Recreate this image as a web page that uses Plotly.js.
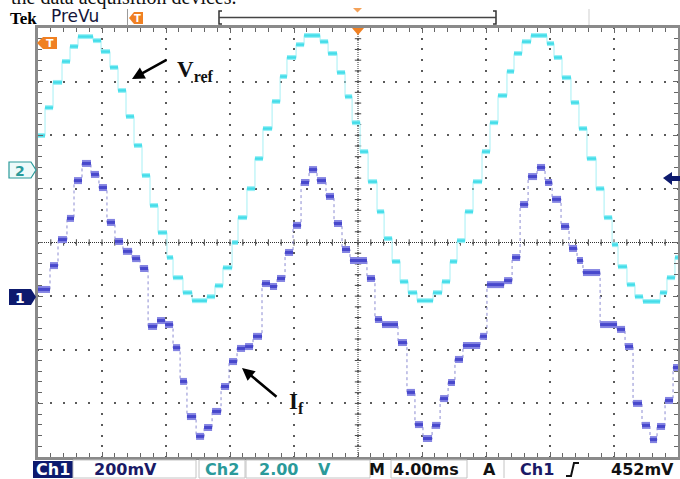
<!DOCTYPE html>
<html><head><meta charset="utf-8">
<script src="https://cdn.plot.ly/plotly-3.0.1.min.js"></script>
<style>html,body{margin:0;padding:0;background:#fff;overflow:hidden}#chart{width:680px;height:479px}</style>
</head><body><div id="chart"></div>
<script>
// ---- Data (time in ms, Ch1 in mV, Ch2 in V) ----
const tCh2 = [0.00,0.44,0.94,1.50,2.00,2.50,3.44,3.94,4.50,5.00,5.50,6.00,6.50,7.00,7.50,8.06,8.44,9.06,9.63,10.56,11.06,11.56,12.13,12.50,13.06,13.56,14.06,14.63,15.13,15.56,16.13,16.63,17.63,18.13,18.69,19.19,19.63,20.13,20.63,21.19,21.63,22.13,22.63,23.13,23.69,24.69,25.25,25.75,26.19,26.69,27.19,27.75,28.25,28.75,29.31,29.75,30.25,30.81,31.81,32.25,32.75,33.31,33.81,34.31,34.88,35.38,35.88,36.25,36.81,37.31,37.81,38.88,39.31,39.81];
const vCh2 = [1.27,2.31,3.25,4.03,4.59,4.96,4.81,4.40,3.81,2.95,1.98,0.90,-0.22,-1.34,-2.35,-3.28,-4.03,-4.59,-4.89,-4.74,-4.33,-3.66,-2.72,-1.79,-0.71,0.41,1.53,2.54,3.47,4.18,4.66,5.00,4.77,4.33,3.62,2.72,1.75,0.67,-0.45,-1.57,-2.57,-3.43,-4.18,-4.59,-4.89,-4.59,-4.18,-3.43,-2.65,-1.57,-0.45,0.67,1.75,2.76,3.66,4.33,4.77,5.00,4.70,4.18,3.43,2.50,1.53,0.41,-0.71,-1.79,-2.80,-3.62,-4.29,-4.74,-4.92,-4.59,-4.03,-3.28];
const tCh1 = [0.00,0.75,1.25,1.81,2.25,2.75,3.31,3.81,4.31,4.81,5.31,5.88,6.38,6.88,7.44,7.94,8.44,8.88,9.31,9.88,10.38,10.88,11.44,11.94,12.44,12.94,13.44,14.00,14.50,14.94,15.44,15.94,16.44,16.94,17.44,18.00,18.50,19.00,19.50,20.56,21.06,21.50,22.50,23.06,23.56,24.06,24.63,25.13,25.63,26.06,26.56,27.63,28.06,29.13,29.63,30.13,30.63,31.19,31.69,32.13,32.69,33.19,33.69,34.06,35.13,36.19,36.69,37.19,37.75,38.25,38.69,39.19,39.69];
const vCh1 = [30,119,216,295,436,500,459,410,280,209,172,145,108,-108,-86,-101,-187,-313,-444,-518,-485,-425,-332,-239,-190,-183,-145,52,41,71,168,269,429,477,436,377,276,179,138,71,-82,-101,-168,-354,-474,-526,-477,-377,-317,-231,-179,-145,48,63,149,347,451,485,429,366,265,183,138,93,-101,-119,-183,-395,-477,-530,-481,-384,-261];
const tEnd = 40;
const ch1Range = [-594.9, 1005.1];   // 200 mV/div, ground marker at "1"
const ch2Range = [-10.72, 5.28];     // 2.00 V/div, ground marker at "2"

// ---- helpers (pixel -> paper for decorations) ----
const L=38,R=678,T=28,B=457;
const PX = p => (p-L)/(R-L);
const PY = p => (B-p)/(B-T);

function connector(t,v,axis,color,dash){
  return {x:t.concat([tEnd]), y:v.concat([v[v.length-1]]), yaxis:axis, mode:'lines',
    line:{shape:'hv', width:1, color:color, dash:dash}, hoverinfo:'skip'};
}
function segments(t,v,axis,color,width){
  const x=[],y=[];
  for(let i=0;i<t.length;i++){
    const t1 = i+1<t.length ? t[i+1] : tEnd;
    x.push(t[i], t1, null); y.push(v[i], v[i], null);
  }
  return {x:x, y:y, yaxis:axis, mode:'lines', line:{width:width, color:color}, hoverinfo:'skip'};
}

const traces = [
  connector(tCh2,vCh2,'y3','#a6f0f5','solid'),
  connector(tCh1,vCh1,'y2','#8c8cd2','dot'),
  segments(tCh2,vCh2,'y3','#98f0f6',5),
  segments(tCh2,vCh2,'y3','#45dde9',2.5),
  segments(tCh1,vCh1,'y2','#8484e2',7),
  segments(tCh1,vCh1,'y2','#4848cc',3)
];

// ---- shapes (graticule centre lines, markers, status bar boxes) ----
const shapes = [];
shapes.push({type:'line',xref:'x',yref:'paper',x0:20,x1:20,y0:0,y1:1,line:{color:'#333',width:1,dash:'1px,1px'},layer:'below'});
shapes.push({type:'line',xref:'paper',yref:'y',x0:0,x1:1,y0:0,y1:0,line:{color:'#333',width:1,dash:'1px,1px'},layer:'below'});
for(let k=1;k<50;k++){
  shapes.push({type:'line',xref:'x',yref:'y',x0:k*0.8,x1:k*0.8,y0:-0.06,y1:0.06,line:{color:'#444',width:1},layer:'below'});
}
for(let k=1;k<40;k++){
  shapes.push({type:'line',xref:'x',yref:'y',x0:19.8,x1:20.2,y0:-4+k*0.2,y1:-4+k*0.2,line:{color:'#444',width:1},layer:'below'});
}
function path(pts,fill,line,lw){
  const d = pts.map((p,i)=>(i?'L':'M')+PX(p[0]).toFixed(5)+','+PY(p[1]).toFixed(5)).join(' ')+(fill?' Z':'');
  return {type:'path',xref:'paper',yref:'paper',path:d,fillcolor:fill||'rgba(0,0,0,0)',line:{color:line||'rgba(0,0,0,0)',width:lw||0}};
}
function rect(x0,y0,x1,y1,fill,line,lw){
  return {type:'rect',xref:'paper',yref:'paper',x0:PX(x0),x1:PX(x1),y0:PY(y1),y1:PY(y0),fillcolor:fill,line:{color:line||'rgba(0,0,0,0)',width:lw||0}};
}
const orange='#f08022', navy='#0d1a6e', teal='#2a9a9a';
// graticule markers
shapes.push(path([[37,43],[43,37],[57,37],[57,49],[43,49]],orange));
shapes.push(path([[352,28],[364,28],[358,35]],orange));
shapes.push(path([[9,162],[31,162],[36,170],[31,178],[9,178]],'#eefafa',teal,1.2));
shapes.push(path([[9,289],[31,289],[36,297],[31,305],[9,305]],navy));
shapes.push(path([[663,178],[672,172],[672,176],[680,176],[680,181],[672,181],[672,185]],navy));
// header
shapes.push(path([[127.5,9],[127.5,26]],null,'#9a9a9a',1));
shapes.push(path([[129,18],[134,12],[143,12],[143,24],[134,24]],orange));
shapes.push(path([[222,11],[219,11],[219,24],[222,24]],null,'#333',1.5));
shapes.push(path([[493,11],[496,11],[496,24],[493,24]],null,'#333',1.5));
shapes.push(path([[219,17.5],[496,17.5]],null,'#444',1.5));
shapes.push(path([[353,8],[362,8],[357.5,12.5]],'#f3a25a'));
shapes.push(path([[589,9],[589,25]],null,'#cfcfcf',1));
// status bar
shapes.push(rect(33,461,73,478,navy));
shapes.push(rect(73,460,196,478,'#fff','#c4c4c4',1));
shapes.push(rect(199,460,245,478,'#fff','#c4c4c4',1));
shapes.push(rect(246,460,370,478,'#fff','#c4c4c4',1));
shapes.push(rect(391,460,467,478,'#fff','#c4c4c4',1));
shapes.push(path([[504,460],[504,478]],null,'#c4c4c4',1));
shapes.push(path([[566,476],[571,476],[574,463],[579,463]],null,'#111',2));

// ---- annotations ----
const serif='Liberation Serif, DejaVu Serif, serif', sans='DejaVu Sans, sans-serif';
function txt(x,y,text,size,color,family,xa){
  return {xref:'paper',yref:'paper',x:PX(x),y:PY(y),text:text,showarrow:false,xanchor:xa||'center',yanchor:'middle',
    font:{size:size,color:color,family:family||sans},borderpad:0};
}
const annotations = [
  {xref:'paper',yref:'paper',x:PX(10),y:PY(10),xanchor:'left',yanchor:'bottom',showarrow:false,borderpad:0,
   text:'the data acquisition devices.',font:{size:20,color:'#111',family:serif}},
  txt(9,18.5,'<b>Tek</b>',17,'#000',serif,'left'),
  txt(50,16,'PreVu',17,'#15153a',sans,'left'),
  txt(137.5,18.5,'<b>T</b>',10,'#fff',sans),
  txt(50,43.5,'<b>T</b>',11,'#fff',sans),
  txt(20,170.5,'<b>2</b>',14,teal,sans),
  txt(20,297.5,'<b>1</b>',14,'#fff',sans),
  // labels with arrows
  {xref:'paper',yref:'paper',x:PX(132),y:PY(79),ax:36,ay:-20,text:'',showarrow:true,arrowhead:2,arrowsize:1,arrowwidth:2.5,arrowcolor:'#000'},
  {xref:'paper',yref:'paper',x:PX(242),y:PY(368),ax:36,ay:30,text:'',showarrow:true,arrowhead:2,arrowsize:1,arrowwidth:2.5,arrowcolor:'#000'},
  txt(176,71,'<b>V<sub>ref</sub></b>',23,'#111',serif,'left'),
  txt(288,403,'<b>I<sub>f</sub></b>',23,'#111',serif,'left'),
  // status bar
  txt(53,469.5,'<b>Ch1</b>',16,'#fff'),
  txt(125,469.5,'<b>200mV</b>',16,'#1a1a66'),
  txt(221.5,469.5,'<b>Ch2</b>',16,teal),
  txt(258,469.5,'<b>2.00</b>',16,teal,sans,'left'),
  txt(332,469.5,'<b>V</b>',16,teal,sans,'right'),
  txt(377,469.5,'<b>M</b>',16,'#111'),
  txt(425.5,469.5,'<b>4.00ms</b>',16,'#111'),
  txt(489,469.5,'<b>A</b>',16,'#111'),
  txt(536.5,469.5,'<b>Ch1</b>',16,'#1a1a66'),
  txt(642.5,469.5,'<b>452mV</b>',16,'#111')
];

const layout = {
  width:680, height:479, margin:{l:38,r:2,t:28,b:22,pad:0},
  paper_bgcolor:'#fff', plot_bgcolor:'#fff', showlegend:false,
  xaxis:{range:[0,40], tick0:0, dtick:4, showticklabels:false, zeroline:false,
    showgrid:true, gridcolor:'#5a5a5a', gridwidth:2, griddash:'1px,8.725px,1px,0px',
    showline:true, linecolor:'#8a8a8a', linewidth:3, mirror:'ticks',
    ticks:'inside', ticklen:5, tickcolor:'#666', tickwidth:1,
    minor:{dtick:0.8, ticks:'inside', ticklen:4, tickcolor:'#666', tickwidth:1, showgrid:false}},
  yaxis:{range:[-4,4], tick0:-4, dtick:1, showticklabels:false, zeroline:false,
    showgrid:true, gridcolor:'#5a5a5a', gridwidth:2, griddash:'1px,10.8px,1px,0px',
    showline:true, linecolor:'#8a8a8a', linewidth:3, mirror:'ticks',
    ticks:'inside', ticklen:5, tickcolor:'#666', tickwidth:1,
    minor:{dtick:0.2, ticks:'inside', ticklen:4, tickcolor:'#666', tickwidth:1, showgrid:false}},
  yaxis2:{range:ch1Range, overlaying:'y', visible:false},
  yaxis3:{range:ch2Range, overlaying:'y', visible:false},
  shapes:shapes, annotations:annotations
};
Plotly.newPlot('chart', traces, layout, {staticPlot:true, displayModeBar:false});
</script></body></html>
